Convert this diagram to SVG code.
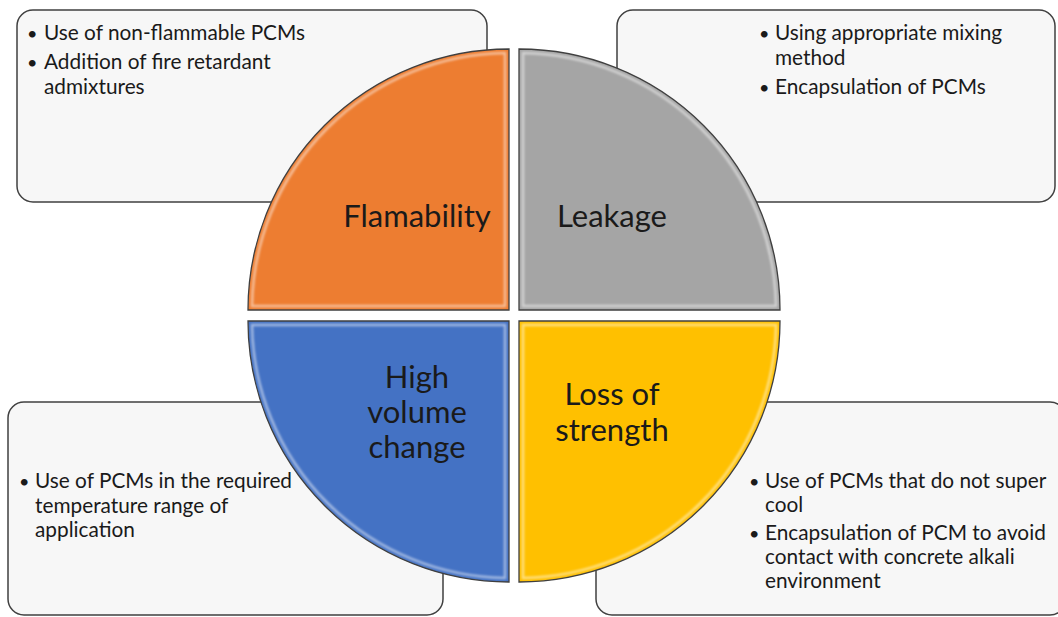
<svg xmlns="http://www.w3.org/2000/svg" width="1058" height="617" viewBox="0 0 1058 617">
  <style>
    .box { fill: #F7F7F7; stroke: #404040; stroke-width: 1.5; }
    .quad { stroke: #3F3F3F; stroke-width: 1.3; }
    .shine { fill: none; stroke: #FFFFFF; stroke-opacity: 0.5; stroke-width: 2.5; filter: url(#soft); }
    .body { font-family: Lato, "Open Sans", sans-serif; font-size: 20.8px; fill: #1A1A1A; }
    .dot { font-family: Lato, "Open Sans", sans-serif; font-size: 18px; fill: #1A1A1A; }
    .label { font-family: Lato, "Open Sans", sans-serif; font-size: 31px; fill: #1A1A1A; text-anchor: middle; }
  </style>
  <defs>
    <filter id="soft" x="-5%" y="-5%" width="110%" height="110%">
      <feGaussianBlur stdDeviation="0.8"/>
    </filter>
  </defs>
  <rect width="1058" height="617" fill="#FFFFFF"/>

  <!-- Solution boxes (drawn beneath the circle) -->
  <g id="box-flammability">
    <rect class="box" x="17" y="10" width="470" height="192" rx="16"/>
    <text class="dot" x="27" y="40">•</text>
    <text class="body" x="44" y="40">Use of non-flammable PCMs</text>
    <text class="dot" x="27" y="69">•</text>
    <text class="body" x="44" y="69">Addition of fire retardant</text>
    <text class="body" x="44" y="94">admixtures</text>
  </g>
  <g id="box-leakage">
    <rect class="box" x="617" y="10" width="438" height="192" rx="16"/>
    <text class="dot" x="759" y="40">•</text>
    <text class="body" x="775" y="40">Using appropriate mixing</text>
    <text class="body" x="775" y="65">method</text>
    <text class="dot" x="759" y="94">•</text>
    <text class="body" x="775" y="94">Encapsulation of PCMs</text>
  </g>
  <g id="box-volume">
    <rect class="box" x="8" y="402" width="435" height="213" rx="16"/>
    <text class="dot" x="19" y="488">•</text>
    <text class="body" x="35" y="488">Use of PCMs in the required</text>
    <text class="body" x="35" y="513">temperature range of</text>
    <text class="body" x="35" y="537">application</text>
  </g>
  <g id="box-strength">
    <rect class="box" x="596" y="402" width="470" height="213" rx="16"/>
    <text class="dot" x="749" y="488">•</text>
    <text class="body" x="765" y="488">Use of PCMs that do not super</text>
    <text class="body" x="765" y="512">cool</text>
    <text class="dot" x="749" y="540">•</text>
    <text class="body" x="765" y="540">Encapsulation of PCM to avoid</text>
    <text class="body" x="765" y="564">contact with concrete alkali</text>
    <text class="body" x="765" y="588">environment</text>
  </g>

  <!-- Four quadrants of the circle -->
  <g id="quad-flamability">
    <path class="quad" fill="#ED7D31" d="M509,310 L248,310 A261,261 0 0 1 509,49 Z"/>
    <path class="shine" d="M505,306 L252,306 A257,257 0 0 1 505,53 Z"/>
    <text class="label" x="417" y="227">Flamability</text>
  </g>
  <g id="quad-leakage">
    <path class="quad" fill="#A5A5A5" d="M519,310 L519,49 A261,261 0 0 1 780,310 Z"/>
    <path class="shine" d="M523,306 L523,53 A257,257 0 0 1 776,306 Z"/>
    <text class="label" x="612" y="227">Leakage</text>
  </g>
  <g id="quad-volume">
    <path class="quad" fill="#4472C4" d="M509,321 L509,582 A261,261 0 0 1 248,321 Z"/>
    <path class="shine" d="M505,325 L505,578 A257,257 0 0 1 252,325 Z"/>
    <text class="label" x="417" y="388">High</text>
    <text class="label" x="417" y="423">volume</text>
    <text class="label" x="417" y="458">change</text>
  </g>
  <g id="quad-strength">
    <path class="quad" fill="#FFC000" d="M519,321 L780,321 A261,261 0 0 1 519,582 Z"/>
    <path class="shine" d="M523,325 L776,325 A257,257 0 0 1 523,578 Z"/>
    <text class="label" x="612" y="405">Loss of</text>
    <text class="label" x="612" y="441">strength</text>
  </g>

  <!-- No connectors in this figure -->
  <g id="connectors"/>
</svg>
